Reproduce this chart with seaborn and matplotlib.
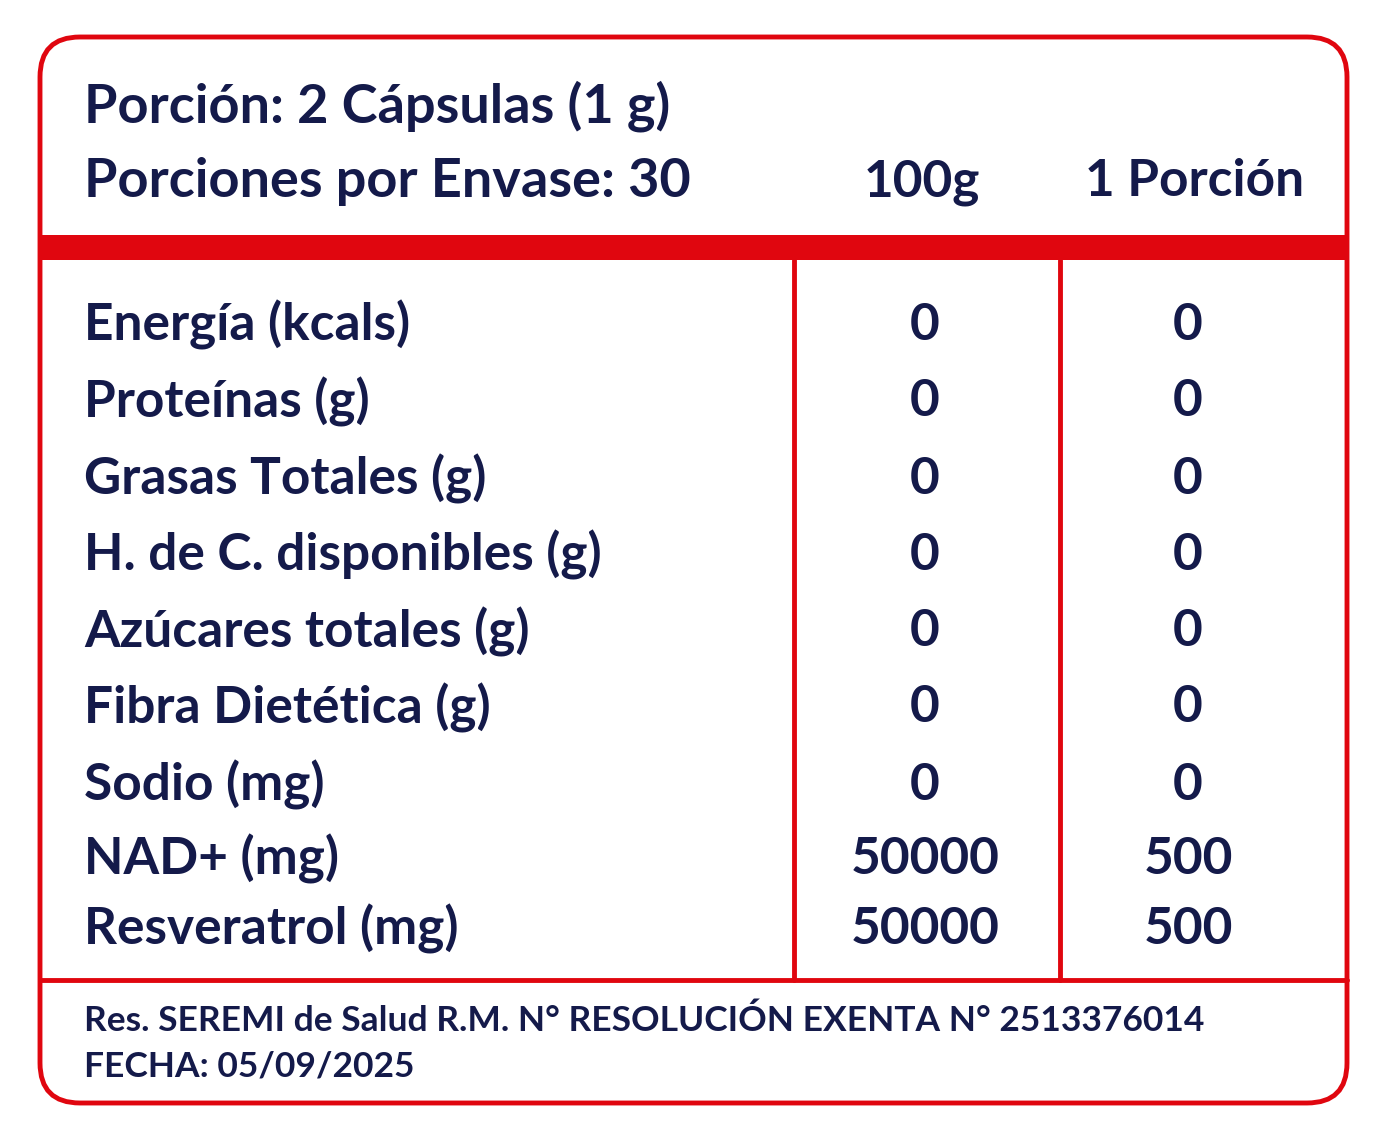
import matplotlib
matplotlib.use("Agg")
import matplotlib.pyplot as plt
from matplotlib.patches import FancyBboxPatch
import seaborn as sns

sns.set_theme(style="white")
plt.rcParams['font.family'] = ['Lato', 'DejaVu Sans']

nutrients = ["Energía (kcals)", "Proteínas (g)", "Grasas Totales (g)",
             "H. de C. disponibles (g)", "Azúcares totales (g)",
             "Fibra Dietética (g)", "Sodio (mg)", "NAD+ (mg)", "Resveratrol (mg)"]
per_100g = ["0", "0", "0", "0", "0", "0", "0", "50000", "50000"]
per_portion = ["0", "0", "0", "0", "0", "0", "0", "500", "500"]
row_y = [323, 400, 477, 553, 630, 706, 783, 857, 927]
col_headers = ["100g", "1 Porción"]
footer = ["Res. SEREMI de Salud R.M. N° RESOLUCIÓN EXENTA N° 2513376014",
          "FECHA: 05/09/2025"]

RED = "#E0060F"
NAVY = "#141a4a"

fig = plt.figure(figsize=(13.87, 11.34), dpi=100)
ax = fig.add_axes([0, 0, 1, 1])
ax.set_xlim(0, 1387)
ax.set_ylim(1134, 0)
ax.axis("off")

box = FancyBboxPatch((40, 37), 1307, 1066, boxstyle="round,pad=0,rounding_size=40",
                     fill=False, edgecolor=RED, linewidth=3.5)
ax.add_patch(box)
ax.fill_between([40, 1347], 235, 260, color=RED, lw=0)
ax.plot([794, 794], [260, 980], color=RED, lw=3.5)
ax.plot([1060, 1060], [260, 980], color=RED, lw=3.5)
ax.plot([40, 1347], [980, 980], color=RED, lw=3.5)

tk = dict(color=NAVY, fontweight="bold", va="center")
ax.text(84, 106, "Porción: 2 Cápsulas (1 g)", fontsize=39, ha="left", **tk)
ax.text(84, 182, "Porciones por Envase: 30", fontsize=39, ha="left", **tk)
ax.text(922, 182, col_headers[0], fontsize=37, ha="center", **tk)
ax.text(1195, 182, col_headers[1], fontsize=37, ha="center", **tk)

for name, a, b, y in zip(nutrients, per_100g, per_portion, row_y):
    ax.text(84, y + 2, name, fontsize=37, ha="left", **tk)
    ax.text(925, y + 2, a, fontsize=37, ha="center", **tk)
    ax.text(1188, y + 2, b, fontsize=37, ha="center", **tk)

ax.text(84, 1021, footer[0], fontsize=25.5, ha="left", color=NAVY, va="center", fontweight="bold")
ax.text(84, 1067, footer[1], fontsize=25.5, ha="left", color=NAVY, va="center", fontweight="bold")

fig.savefig("out.png", dpi=100, facecolor="white")
